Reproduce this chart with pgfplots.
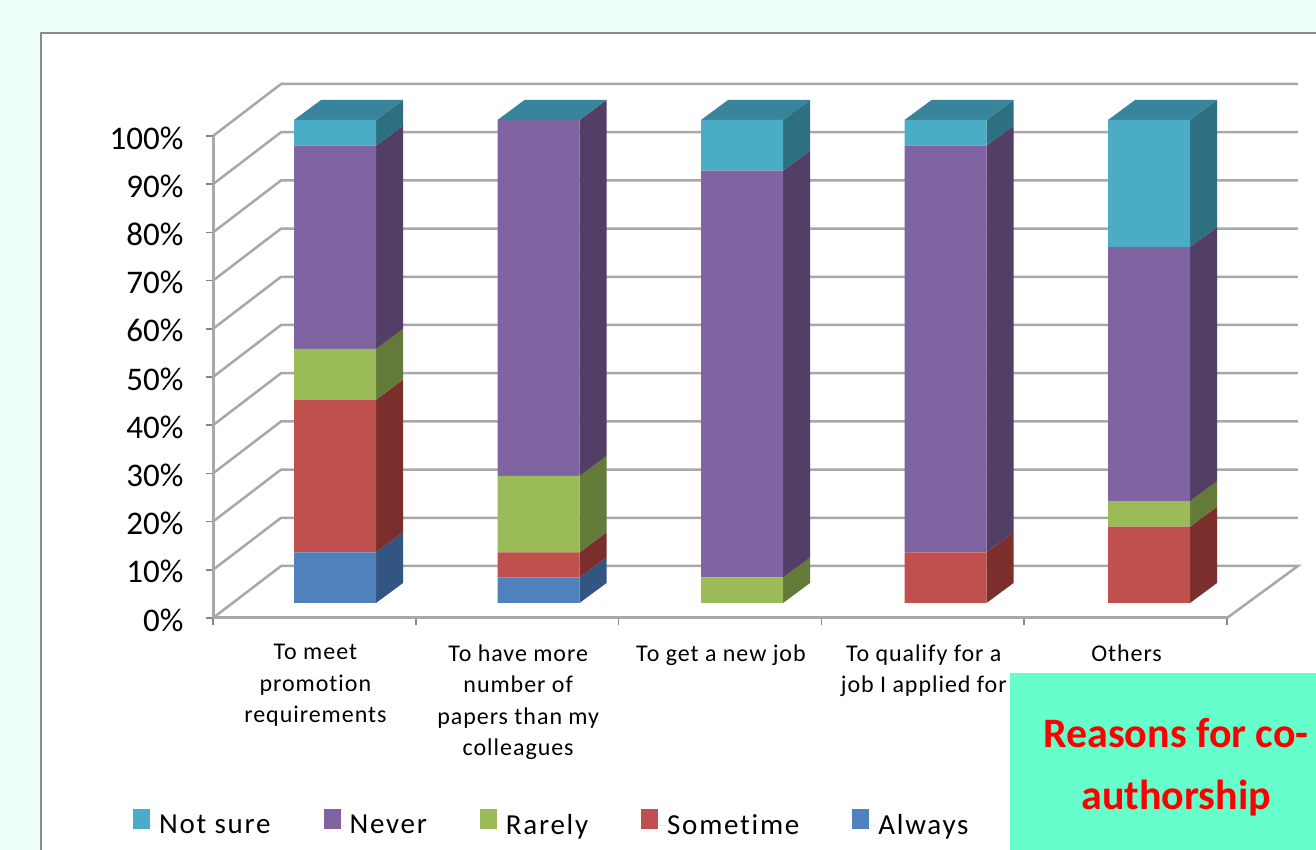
\documentclass[border=0pt]{standalone}
\usepackage{fontspec}
\usepackage{pgfplots}
\usepackage{pgfplotstable}
\pgfplotsset{compat=1.18}
\setmainfont{Carlito}[Ligatures=NoCommon]
\newfontfamily\labfont[LetterSpace=4,Ligatures=NoCommon]{Carlito}
\newfontfamily\legfont[LetterSpace=6,Ligatures=NoCommon]{Carlito}

\definecolor{pagebg}{HTML}{EFFFFA}
\definecolor{framegray}{HTML}{8C8C8C}
\definecolor{gridgray}{HTML}{A8A8A8}
\definecolor{boxgreen}{HTML}{66FFCC}
\definecolor{cAlways}{HTML}{4F81BD}
\definecolor{cSometime}{HTML}{C0504D}
\definecolor{cRarely}{HTML}{9BBB59}
\definecolor{cNever}{HTML}{8064A2}
\definecolor{cNotsure}{HTML}{4BACC6}
\definecolor{sAlways}{HTML}{325681}
\definecolor{sSometime}{HTML}{7B2F2D}
\definecolor{sRarely}{HTML}{647A38}
\definecolor{sNever}{HTML}{533F66}
\definecolor{sNotsure}{HTML}{2F6F82}
\definecolor{tNotsure}{HTML}{38849B}

% share of answers per reason, in percent
\pgfplotstableread{
x always sometime rarely never notsure
0 10.5 31.6 10.5 42.1 5.3
1 5.3 5.2 15.8 73.7 0
2 0 0 5.3 84.2 10.5
3 0 10.5 0 84.2 5.3
4 0 15.8 5.3 52.6 26.3
}\reasons

\begin{document}
\begin{tikzpicture}[x=1pt,y=1pt]
\path[use as bounding box] (0,0) rectangle (1316,850);
\fill[pagebg] (0,0) rectangle (1316,850);
\fill[white] (41,0) rectangle (1316,817);
\draw[framegray,line width=2.5pt] (41,0) -- (41,817) -- (1316,817);

% walls, gridlines, ticks and labels
\begin{axis}[
    name=walls,
    at={(213pt,232pt)}, anchor=south west,
    scale only axis, width=1014pt, height=482pt,
    clip=false,
    xmin=-0.5, xmax=4.5, ymin=0, ymax=100,
    axis x line*=bottom, axis y line*=left,
    axis line style={gridgray,line width=3pt,-},
    tick align=outside,
    major tick length=7pt, minor tick length=7pt,
    tick style={gridgray!80!black,line width=1.5pt},
    xtick={0,1,2,3,4},
    minor xtick={-0.5,0.5,1.5,2.5,3.5,4.5},
    x tick style={draw=none},
    minor x tick style={draw=gridgray!80!black,line width=1.5pt},
    xticklabels={{To meet\\promotion\\requirements},
        {To have more\\number of\\papers than my\\colleagues},
        {To get a new job},
        {To qualify for a\\job I applied for},
        {Others}},
    xticklabel style={align=center,anchor=north,yshift=-16pt,xshift=1pt,
        font=\fontsize{24}{31.5}\selectfont\labfont},
    ytick={0,10,...,100},
    yticklabel={\pgfmathprintnumber{\tick}\%},
    yticklabel style={/pgf/number format/assume math mode=true,
        font=\fontsize{33}{35}\selectfont,xshift=-19pt,yshift=-2pt},
]
\addplot[gridgray,line width=2.5pt] coordinates {(-0.5,0)(-0.1644,10.79)(4.85,10.79)(4.5,0)};
\addplot[gridgray,line width=2.5pt] coordinates {(-0.5,10)(-0.1644,20.79)(4.85,20.79)};
\addplot[gridgray,line width=2.5pt] coordinates {(-0.5,20)(-0.1644,30.79)(4.85,30.79)};
\addplot[gridgray,line width=2.5pt] coordinates {(-0.5,30)(-0.1644,40.79)(4.85,40.79)};
\addplot[gridgray,line width=2.5pt] coordinates {(-0.5,40)(-0.1644,50.79)(4.85,50.79)};
\addplot[gridgray,line width=2.5pt] coordinates {(-0.5,50)(-0.1644,60.79)(4.85,60.79)};
\addplot[gridgray,line width=2.5pt] coordinates {(-0.5,60)(-0.1644,70.79)(4.85,70.79)};
\addplot[gridgray,line width=2.5pt] coordinates {(-0.5,70)(-0.1644,80.79)(4.85,80.79)};
\addplot[gridgray,line width=2.5pt] coordinates {(-0.5,80)(-0.1644,90.79)(4.85,90.79)};
\addplot[gridgray,line width=2.5pt] coordinates {(-0.5,90)(-0.1644,100.79)(4.85,100.79)};
\addplot[gridgray,line width=2.5pt] coordinates {(-0.5,100)(-0.1644,110.79)(4.85,110.79)};
\end{axis}

% side and top faces of the columns
\begin{axis}[
    at={(214pt,247pt)}, anchor=south west,
    scale only axis, width=1013pt, height=483pt,
    clip=false, hide axis,
    xmin=-0.5946, xmax=4.3833, ymin=0, ymax=100,
]
% column 1
\addplot[fill=sAlways,draw=none] coordinates {(0.2015,0)(0.3342,4.14)(0.3342,14.64)(0.2015,10.5)};
\addplot[fill=sSometime,draw=none] coordinates {(0.2015,10.5)(0.3342,14.64)(0.3342,46.24)(0.2015,42.1)};
\addplot[fill=sRarely,draw=none] coordinates {(0.2015,42.1)(0.3342,46.24)(0.3342,56.74)(0.2015,52.6)};
\addplot[fill=sNever,draw=none] coordinates {(0.2015,52.6)(0.3342,56.74)(0.3342,98.84)(0.2015,94.7)};
\addplot[fill=sNotsure,draw=none] coordinates {(0.2015,94.7)(0.3342,98.84)(0.3342,104.14)(0.2015,100)};
\addplot[fill=tNotsure,draw=none] coordinates {(-0.2015,100)(0.2015,100)(0.3342,104.14)(-0.0688,104.14)};
% column 2
\addplot[fill=sAlways,draw=none] coordinates {(1.2015,0)(1.3342,4.14)(1.3342,9.44)(1.2015,5.3)};
\addplot[fill=sSometime,draw=none] coordinates {(1.2015,5.3)(1.3342,9.44)(1.3342,14.64)(1.2015,10.5)};
\addplot[fill=sRarely,draw=none] coordinates {(1.2015,10.5)(1.3342,14.64)(1.3342,30.44)(1.2015,26.3)};
\addplot[fill=sNever,draw=none] coordinates {(1.2015,26.3)(1.3342,30.44)(1.3342,104.14)(1.2015,100)};
\addplot[fill=tNotsure,draw=none] coordinates {(0.7985,100)(1.2015,100)(1.3342,104.14)(0.9312,104.14)};
% column 3
\addplot[fill=sRarely,draw=none] coordinates {(2.2015,0)(2.3342,4.14)(2.3342,9.44)(2.2015,5.3)};
\addplot[fill=sNever,draw=none] coordinates {(2.2015,5.3)(2.3342,9.44)(2.3342,93.64)(2.2015,89.5)};
\addplot[fill=sNotsure,draw=none] coordinates {(2.2015,89.5)(2.3342,93.64)(2.3342,104.14)(2.2015,100)};
\addplot[fill=tNotsure,draw=none] coordinates {(1.7985,100)(2.2015,100)(2.3342,104.14)(1.9312,104.14)};
% column 4
\addplot[fill=sSometime,draw=none] coordinates {(3.2015,0)(3.3342,4.14)(3.3342,14.64)(3.2015,10.5)};
\addplot[fill=sNever,draw=none] coordinates {(3.2015,10.5)(3.3342,14.64)(3.3342,98.84)(3.2015,94.7)};
\addplot[fill=sNotsure,draw=none] coordinates {(3.2015,94.7)(3.3342,98.84)(3.3342,104.14)(3.2015,100)};
\addplot[fill=tNotsure,draw=none] coordinates {(2.7985,100)(3.2015,100)(3.3342,104.14)(2.9312,104.14)};
% column 5
\addplot[fill=sSometime,draw=none] coordinates {(4.2015,0)(4.3342,4.14)(4.3342,19.94)(4.2015,15.8)};
\addplot[fill=sRarely,draw=none] coordinates {(4.2015,15.8)(4.3342,19.94)(4.3342,25.24)(4.2015,21.1)};
\addplot[fill=sNever,draw=none] coordinates {(4.2015,21.1)(4.3342,25.24)(4.3342,77.84)(4.2015,73.7)};
\addplot[fill=sNotsure,draw=none] coordinates {(4.2015,73.7)(4.3342,77.84)(4.3342,104.14)(4.2015,100)};
\addplot[fill=tNotsure,draw=none] coordinates {(3.7985,100)(4.2015,100)(4.3342,104.14)(3.9312,104.14)};
\end{axis}

% front faces, stacked, with the legend
\begin{axis}[
    at={(214pt,247pt)}, anchor=south west,
    scale only axis, width=1013pt, height=483pt,
    clip=false, hide axis,
    xmin=-0.5946, xmax=4.3833, ymin=0, ymax=100,
    ybar stacked, bar width=82pt,
    legend style={at={(-0.08,-0.487)},anchor=south west,draw=none,fill=none,
        inner sep=0pt,font=\fontsize{29}{31}\selectfont\legfont,
        /tikz/every even column/.append style={column sep=51pt}},
    legend columns=5, reverse legend, legend cell align=left,
    legend image code/.code={\fill[#1] (0pt,-4pt) rectangle (17pt,16pt);
        \path (0pt,0pt) -- (24pt,0pt);},
]
\addplot[fill=cAlways,draw=none] table[x=x,y=always] {\reasons}; \addlegendentry{Always}
\addplot[fill=cSometime,draw=none] table[x=x,y=sometime] {\reasons}; \addlegendentry{Sometime}
\addplot[fill=cRarely,draw=none] table[x=x,y=rarely] {\reasons}; \addlegendentry{Rarely}
\addplot[fill=cNever,draw=none] table[x=x,y=never] {\reasons}; \addlegendentry{Never}
\addplot[fill=cNotsure,draw=none] table[x=x,y=notsure] {\reasons}; \addlegendentry{Not sure}
\end{axis}

\fill[boxgreen] (1010,0) rectangle (1316,177);
\node[anchor=base,text=red,inner sep=0pt,font=\fontsize{42}{42}\selectfont\bfseries] at (1176,102) {Reasons for co-};
\node[anchor=base,text=red,inner sep=0pt,font=\fontsize{42}{42}\selectfont\bfseries] at (1176,40) {authorship};
\end{tikzpicture}
\end{document}
